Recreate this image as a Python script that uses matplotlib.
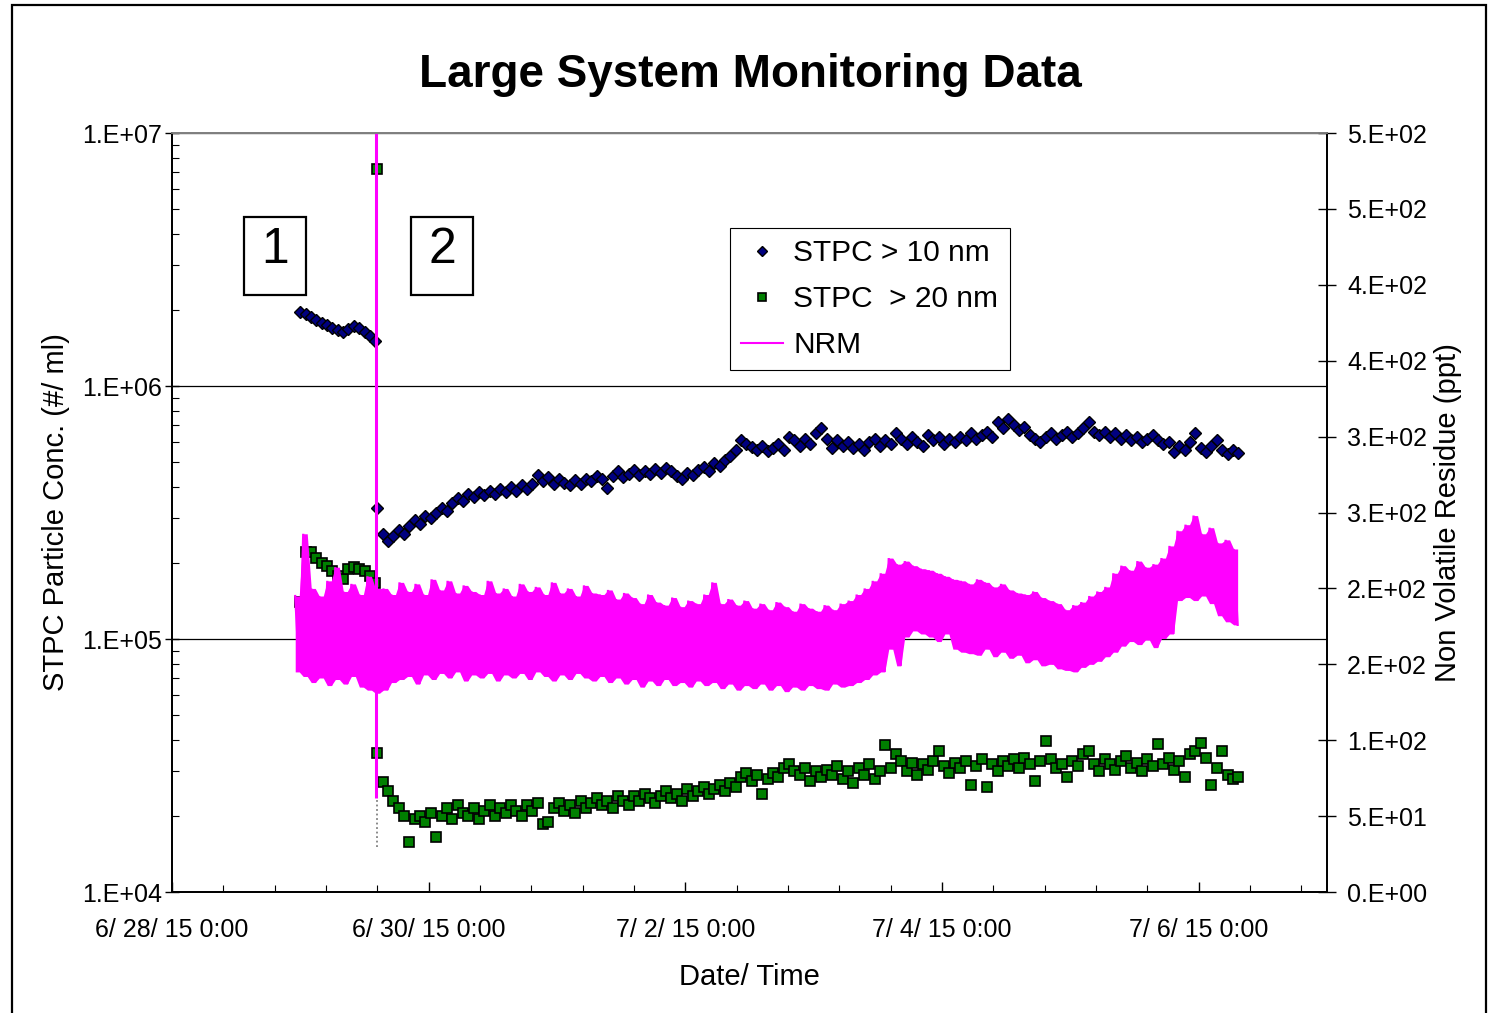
import datetime as dt
import numpy as np
import matplotlib
matplotlib.use('Agg')
import matplotlib.pyplot as plt
import matplotlib.dates as mdates
from matplotlib.ticker import FixedLocator, FuncFormatter, MultipleLocator, LogLocator, NullFormatter
from matplotlib.patches import Rectangle

plt.rcParams['font.family'] = ['Liberation Sans', 'DejaVu Sans']

# ---- data (time in days after 6/28/15 0:00) ----
start_date = dt.datetime(2015, 6, 28)
days_shown = 9

# run 1 (before the event), hourly
t_run1_start = 1.0
stpc10_run1 = [1.96, 1.93, 1.88, 1.83, 1.78, 1.74, 1.70, 1.66, 1.64, 1.68,
               1.72, 1.70, 1.64, 1.58, 1.50]                      # x1e6
stpc20_run1 = [1.40, 2.20, 2.20, 2.10, 2.00, 1.95, 1.85, 1.78, 1.72, 1.90,
               1.92, 1.90, 1.85, 1.78, 1.66]                      # x1e5

# event
event_t = 1.6
event_low = 1.5e4
spike_t = 1.595
stpc20_spike = 7.2e6
nrm_spike_t = 1.59
nrm_spike = [62, 600]

# run 2 (after the event), hourly
t_run2_start = 1.6
stpc10_run2 = [
    3.3, 2.6, 2.45, 2.55, 2.7, 2.6, 2.8, 2.95, 2.85, 3.05,
    3.0, 3.15, 3.3, 3.2, 3.45, 3.6, 3.5, 3.75, 3.65, 3.8,
    3.7, 3.85, 3.75, 3.9, 3.8, 4.0, 3.85, 4.05, 3.9, 4.1,
    4.45, 4.2, 4.35, 4.1, 4.3, 4.15, 4.05, 4.25, 4.1, 4.3,
    4.2, 4.4, 4.3, 3.95, 4.4, 4.6, 4.35, 4.5, 4.65, 4.45,
    4.6, 4.5, 4.7, 4.55, 4.75, 4.6, 4.4, 4.3, 4.55, 4.45,
    4.65, 4.8, 4.6, 4.95, 4.85, 5.1, 5.3, 5.6, 6.1, 5.9,
    5.75, 5.6, 5.8, 5.55, 5.7, 5.9, 5.6, 6.3, 6.1, 5.8,
    6.2, 5.9, 6.5, 6.8, 6.2, 5.7, 6.1, 5.8, 6.0, 5.7,
    5.9, 5.6, 6.0, 6.2, 5.8, 6.1, 5.9, 6.5, 6.2, 5.9,
    6.3, 6.0, 5.8, 6.4, 6.1, 6.3, 5.9, 6.2, 6.0, 6.3,
    6.1, 6.5, 6.2, 6.4, 6.6, 6.3, 7.2, 6.8, 7.4, 7.0,
    6.7, 6.9, 6.4, 6.2, 6.0, 6.3, 6.5, 6.2, 6.4, 6.6,
    6.3, 6.5, 6.8, 7.2, 6.6, 6.4, 6.6, 6.3, 6.5, 6.2,
    6.4, 6.1, 6.3, 6.0, 6.2, 6.4, 6.1, 5.9, 6.0, 5.5,
    5.8, 5.6, 6.0, 6.5, 5.7, 5.5, 5.8, 6.1, 5.6, 5.4,
    5.6, 5.45]                                                     # x1e5
stpc20_run2 = [
    3.55, 2.72, 2.5, 2.3, 2.15, 2.0, 1.58, 1.95, 2.0, 1.9,
    2.05, 1.65, 2.0, 2.15, 1.95, 2.2, 2.05, 2.0, 2.15, 1.95,
    2.1, 2.2, 2.0, 2.15, 2.05, 2.2, 2.1, 2.0, 2.2, 2.1,
    2.25, 1.85, 1.9, 2.15, 2.25, 2.1, 2.2, 2.05, 2.3, 2.15,
    2.25, 2.35, 2.2, 2.3, 2.15, 2.4, 2.3, 2.2, 2.4, 2.3,
    2.45, 2.35, 2.25, 2.4, 2.5, 2.35, 2.45, 2.3, 2.55, 2.4,
    2.5, 2.6, 2.45, 2.55, 2.65, 2.5, 2.7, 2.6, 2.85, 2.95,
    2.75, 2.9, 2.45, 2.8, 2.95, 2.85, 3.1, 3.2, 3.0, 2.9,
    3.1, 2.75, 3.0, 2.85, 3.05, 2.9, 3.15, 2.8, 3.0, 2.7,
    3.1, 2.9, 3.2, 2.8, 3.0, 3.8, 3.1, 3.5, 3.3, 3.0,
    3.25, 2.9, 3.2, 3.05, 3.3, 3.6, 3.15, 2.95, 3.25, 3.1,
    3.3, 2.65, 3.15, 3.35, 2.6, 3.2, 3.0, 3.3, 3.15, 3.35,
    3.1, 3.4, 3.2, 2.75, 3.3, 3.95, 3.35, 3.1, 3.2, 2.85,
    3.3, 3.15, 3.5, 3.6, 3.2, 3.0, 3.35, 3.2, 3.05, 3.3,
    3.45, 3.1, 3.25, 3.0, 3.35, 3.15, 3.85, 3.2, 3.4, 3.05,
    3.3, 2.85, 3.5, 3.6, 3.9, 3.4, 2.65, 3.1, 3.6, 2.9,
    2.8, 2.85]                                                     # x1e4

# NRM (ppt), min / max of the trace read every 1.5 h
t_nrm_start = 0.96
nrm_hi = [
    195, 236, 200, 195, 205, 214, 198, 203, 196, 208,
    200, 200, 196, 204, 198, 203, 196, 206, 199, 205,
    197, 202, 198, 196, 205, 197, 200, 195, 203, 198,
    201, 196, 204, 197, 200, 195, 202, 197, 196, 199,
    193, 197, 194, 190, 196, 191, 189, 194, 188, 192,
    190, 196, 204, 190, 193, 189, 192, 187, 190, 186,
    191, 188, 185, 190, 187, 185, 189, 186, 190, 192,
    196, 200, 205, 210, 220, 216, 218, 215, 213, 212,
    210, 208, 206, 205, 203, 206, 204, 201, 203, 199,
    197, 196, 198, 194, 192, 190, 186, 189, 191, 195,
    198, 201, 210, 215, 212, 218, 214, 216, 220, 228,
    238, 242, 248, 236, 240, 230, 232, 226]
nrm_lo = [
    145, 142, 138, 141, 136, 140, 137, 142, 135, 133,
    131, 133, 138, 140, 142, 137, 143, 140, 144, 141,
    145, 139, 143, 141, 144, 139, 143, 141, 144, 140,
    145, 142, 139, 143, 140, 144, 141, 139, 142, 138,
    141, 137, 140, 135, 139, 136, 140, 136, 138, 135,
    139, 136, 138, 134, 137, 133, 136, 134, 137, 133,
    136, 132, 135, 133, 136, 134, 133, 137, 135, 136,
    138, 140, 143, 145, 160, 149, 168, 172, 170, 168,
    165, 170, 160, 158, 157, 156, 160, 155, 158, 154,
    156, 151, 153, 149, 150, 147, 146, 145, 148, 150,
    152, 155, 158, 162, 165, 163, 166, 161, 167, 170,
    192, 194, 192, 195, 190, 182, 178, 176]

# ---- build series ----
base = mdates.date2num(start_date)
hour = 1 / 24.0
t_run1 = base + t_run1_start + hour * np.arange(len(stpc10_run1))
t_run2 = base + t_run2_start + hour * np.arange(len(stpc10_run2))

t10 = np.concatenate([t_run1, t_run2])
y10 = np.concatenate([np.array(stpc10_run1) * 1e6, np.array(stpc10_run2) * 1e5])
t20 = np.concatenate([t_run1, [base + spike_t], t_run2])
y20 = np.concatenate([np.array(stpc20_run1) * 1e5, [stpc20_spike], np.array(stpc20_run2) * 1e4])

step = 1 / 16.0
t_hi = base + t_nrm_start + step * np.arange(len(nrm_hi))
t_lo = t_hi + step / 2
t_nrm = np.column_stack([t_hi, t_lo]).ravel()
y_nrm = np.column_stack([nrm_hi, nrm_lo]).ravel()


def excel_sci(v, pos=None):
    if v <= 0:
        return '0.E+00'
    e = int(np.floor(np.log10(v) + 1e-9))
    m = int(v / 10 ** e + 0.5)
    if m == 10:
        m, e = 1, e + 1
    return f'{m}.E+{e:02d}'


def date_label(v, pos=None):
    d = mdates.num2date(v)
    return f'{d.month}/ {d.day}/ {d.year % 100} 0:00'


# ---- figure ----
fig = plt.figure(figsize=(14.88, 10.13), dpi=100)
ax = fig.add_axes([0.1156, 0.1194, 0.7762, 0.7493])
ax2 = ax.twinx()

ax.vlines(base + event_t, event_low, 1e7, colors='#808080', linestyles=(0, (1, 1.5)), lw=1.3, zorder=1)

l10, = ax.plot(t10, y10, linestyle='none', marker='D', ms=6.4, mfc='#000080', mec='black', mew=1.0, zorder=3)
l20, = ax.plot(t20, y20, linestyle='none', marker='s', ms=7.6, mfc='#008000', mec='black', mew=1.2, zorder=3)

# NRM: dense trace shown as its min/max band, plus the trace itself
ax2.fill_between(t_nrm, np.repeat(nrm_lo, 2), np.repeat(nrm_hi, 2), color='#FF00FF', lw=0, zorder=2)
lnrm, = ax2.plot(t_nrm, y_nrm, color='#FF00FF', lw=1.6, solid_joinstyle='miter', zorder=2)
ax2.vlines(base + nrm_spike_t, nrm_spike[0], nrm_spike[1], colors='#FF00FF', lw=2.2, zorder=2)

# left axis
ax.set_yscale('log')
ax.set_ylim(1e4, 1e7)
ax.yaxis.set_major_locator(LogLocator(base=10))
ax.yaxis.set_minor_locator(LogLocator(base=10, subs=np.arange(2, 10)))
ax.yaxis.set_major_formatter(FuncFormatter(excel_sci))
ax.yaxis.set_minor_formatter(NullFormatter())
ax.grid(axis='y', which='major', color='black', lw=0.9)
ax.set_axisbelow(True)

# x axis
ax.set_xlim(base, base + days_shown)
ax.xaxis.set_major_locator(MultipleLocator(2))
ax.xaxis.set_minor_locator(MultipleLocator(0.4))
ax.xaxis.set_major_formatter(FuncFormatter(date_label))

# right axis
ax2.set_ylim(0, 500)
ax2.yaxis.set_major_locator(FixedLocator(np.arange(0, 501, 50)))
ax2.yaxis.set_major_formatter(FuncFormatter(excel_sci))

ax.tick_params(axis='y', which='major', direction='inout', length=10, width=1, labelsize=18, pad=2)
ax.tick_params(axis='y', which='minor', direction='in', length=5, width=0.8)
ax.tick_params(axis='x', which='major', direction='in', length=7, width=1, labelsize=18, pad=19)
ax.tick_params(axis='x', which='minor', direction='in', length=5, width=0.8)
ax2.tick_params(axis='y', direction='inout', length=13, width=1, labelsize=18, pad=8)

for a in (ax, ax2):
    for s in a.spines.values():
        s.set_linewidth(1.3)
    a.spines['top'].set_color('#808080')

ax.set_ylabel('STPC Particle Conc. (#/ ml)', fontsize=21, labelpad=9)
ax2.set_ylabel('Non Volatile Residue (ppt)', fontsize=21, labelpad=5)
ax.set_xlabel('Date/ Time', fontsize=21, labelpad=15)

# boxed step numbers
for x0, txt in [(0.0623, '1'), (0.2069, '2')]:
    ax.add_patch(Rectangle((x0, 0.7866), 0.0537, 0.1028, transform=ax.transAxes,
                           fill=False, ec='black', lw=1.6, zorder=4))
    ax.text(x0 + 0.0537 / 2, 0.7866 + 0.1028 * 0.58, txt, transform=ax.transAxes,
            ha='center', va='center', fontsize=36, zorder=5)

leg = ax2.legend([l10, l20, lnrm], ['STPC > 10 nm', 'STPC  > 20 nm', 'NRM'],
                 loc='upper left', bbox_to_anchor=(0.483, 0.875), fontsize=21.5,
                 frameon=True, fancybox=False, edgecolor='black', framealpha=1,
                 borderaxespad=0, handlelength=1.4, handletextpad=0.35,
                 labelspacing=0.6, borderpad=0.38, markerscale=0.8)
leg.get_frame().set_linewidth(0.8)
leg.get_lines()[2].set_linewidth(1.5)

fig.text(0.504, 0.926, 'Large System Monitoring Data', fontsize=33,
         fontweight='bold', ha='center', va='center')

fig.add_artist(Rectangle((0.008, -0.01), 0.9906, 1.005, transform=fig.transFigure,
                         fill=False, ec='black', lw=1.6))

fig.savefig('out.png', dpi=100)
